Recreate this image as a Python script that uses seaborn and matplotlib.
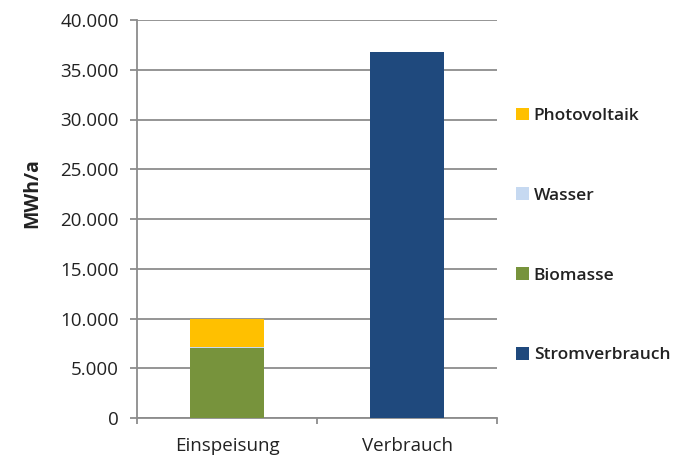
import matplotlib
matplotlib.use("Agg")
import matplotlib.pyplot as plt
import matplotlib.ticker as mticker
from matplotlib.patches import Patch
import seaborn as sns
import pandas as pd

categories = ["Einspeisung", "Verbrauch"]
biomasse = [7000, 0]
wasser = [90, 0]
photovoltaik = [2830, 0]
stromverbrauch = [0, 36800]

series_names = ["Biomasse", "Wasser", "Photovoltaik", "Stromverbrauch"]
series_values = [biomasse, wasser, photovoltaik, stromverbrauch]
legend_order = ["Photovoltaik", "Wasser", "Biomasse", "Stromverbrauch"]
colors = {"Photovoltaik": "#FFC000", "Wasser": "#C6D9F1",
          "Biomasse": "#77933C", "Stromverbrauch": "#1F497D"}

sns.set_style("white")
plt.rcParams['font.family'] = ['Open Sans', 'DejaVu Sans']

fig = plt.figure(figsize=(6.8, 4.59), dpi=100)
ax = fig.add_axes([137/680, 1-418/459, 360/680, 398/459])

grid_col = "#8c8c8c"
txt_col = "#222222"
bottom = [0, 0]
for name, vals in zip(series_names, series_values):
    df = pd.DataFrame({"cat": categories, "val": vals})
    sns.barplot(data=df, x="cat", y="val", color=colors[name], width=0.41,
                bottom=bottom, saturation=1, ax=ax, zorder=3, linewidth=0)
    bottom = [b + v for b, v in zip(bottom, vals)]

ax.set_ylim(0, 40000)
ax.set_xlim(-0.5, 1.5)
ax.yaxis.set_major_locator(mticker.MultipleLocator(5000))
ax.yaxis.set_major_formatter(mticker.FuncFormatter(lambda v, p: f"{int(v):,}".replace(",", ".")))
ax.grid(axis="y", color=grid_col, linewidth=1.3, zorder=0)
ax.set_axisbelow(True)

for s in ["top", "right"]:
    ax.spines[s].set_visible(False)
for s in ["left", "bottom"]:
    ax.spines[s].set_color(grid_col)
    ax.spines[s].set_linewidth(1.3)

ax.tick_params(axis="y", length=5, width=1.3, color=grid_col, pad=8,
               labelsize=13.5, labelcolor=txt_col, left=True)
ax.set_xticks([-0.5, 0.5, 1.5], minor=True)
ax.tick_params(axis="x", which="minor", length=4, width=1.3, color=grid_col, bottom=True)
ax.tick_params(axis="x", which="major", length=0, pad=14, labelsize=13.5, labelcolor=txt_col)

ax.set_xlabel("")
ax.set_ylabel("MWh/a", fontsize=14, fontweight="bold", color=txt_col)
ax.yaxis.set_label_coords(-0.262, 0.565)

handles = [Patch(facecolor=colors[n], edgecolor="none") for n in legend_order]
leg = fig.legend(handles, legend_order,
                 loc="upper left", bbox_to_anchor=(500/680, 1-92/459), frameon=False,
                 prop={"size": 12.5, "weight": "semibold"}, labelspacing=3.65,
                 handlelength=0.75, handleheight=0.75, handletextpad=0.3,
                 labelcolor=txt_col)

fig.savefig("out.png", dpi=100)
